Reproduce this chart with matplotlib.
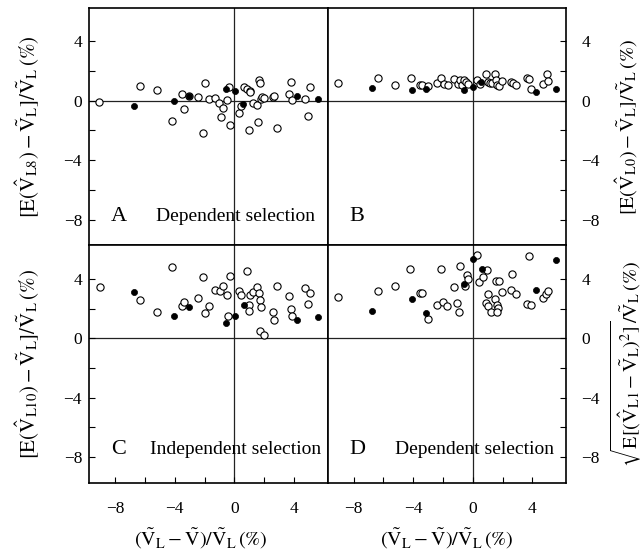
import matplotlib
matplotlib.use("Agg")
import matplotlib.pyplot as plt

plt.rcParams["font.family"] = ["Liberation Serif", "DejaVu Serif"]
plt.rcParams["mathtext.fontset"] = "stix"

# ---------------- data ----------------
# Panel A: dependent selection, L8 estimator bias
a_open_x = [-9.05, -6.35, -5.18, -3.53, -3.38, -4.17, -3.04, -2.41, -1.98, -2.12,
            -1.71, -1.28, -1.04, -0.79, -0.90, -0.52, -0.38, -0.29, 0.32, 0.43,
            0.65, 0.86, 1.04, 1.08, 1.22, 1.01, 1.58, 1.67, 1.69, 1.49,
            1.76, 1.84, 2.00, 2.57, 2.66, 2.88, 3.65, 3.78, 3.87, 4.71,
            5.05, 4.96]
a_open_y = [-0.11, 0.98, 0.70, 0.47, -0.56, -1.33, 0.30, 0.27, 1.20, -2.19,
            0.12, 0.18, -0.18, -0.52, -1.10, 0.07, 0.91, -1.60, -0.81, -0.34,
            0.91, 0.79, 0.66, 0.57, -0.16, -1.94, -1.40, 1.38, 1.22, -0.29,
            0.12, 0.25, 0.20, 0.27, 0.30, -1.83, 0.47, 1.29, 0.05, 0.12,
            0.95, -1.04]
a_fill_x = [-6.76, -4.05, -3.06, -0.56, 0.02, 0.61, 4.23, 5.59]
a_fill_y = [-0.34, -0.04, 0.30, 0.79, 0.68, -0.24, 0.34, 0.12]

# Panel B: L0 estimator bias
b_open_x = [-9.05, -6.35, -5.20, -4.17, -3.56, -3.40, -3.00, -2.43, -2.14, -1.94,
            -1.69, -1.28, -1.01, -0.84, -0.74, -0.57, -0.45, -0.32, 0.31, 0.49,
            0.90, 0.99, 1.15, 1.26, 1.46, 1.57, 1.64, 1.73, 1.96, 2.54,
            2.68, 2.88, 3.62, 3.78, 3.92, 4.70, 4.95, 5.04]
b_open_y = [1.18, 1.52, 1.08, 1.56, 1.06, 1.06, 1.00, 1.22, 1.52, 1.13,
            1.06, 1.45, 1.11, 1.42, 1.06, 1.42, 1.29, 1.15, 1.40, 1.13,
            1.79, 1.25, 1.18, 1.18, 1.79, 1.40, 1.06, 0.97, 1.36, 1.29,
            1.18, 1.06, 1.52, 1.47, 0.79, 1.13, 1.79, 1.36]
b_fill_x = [-6.76, -4.08, -3.11, -0.59, 0.02, 0.58, 4.21, 5.56]
b_fill_y = [0.84, 0.70, 0.79, 0.75, 0.93, 1.25, 0.61, 0.81]

# Panel C: independent selection, L10 estimator bias
c_open_x = [-9.03, -6.35, -5.18, -4.19, -3.53, -3.38, -2.41, -2.12, -1.98, -1.71,
            -1.28, -0.99, -0.79, -0.52, -0.43, -0.29, 0.32, 0.43, 0.88, 0.99,
            0.99, 1.08, 1.22, 1.49, 1.64, 1.69, 1.76, 1.74, 1.96, 2.59,
            2.64, 2.88, 3.65, 3.78, 3.87, 4.71, 5.05, 4.96]
c_open_y = [3.46, 2.56, 1.74, 4.81, 2.17, 2.44, 2.71, 4.14, 1.69, 2.20,
            3.28, 3.19, 3.53, 2.94, 1.47, 4.18, 3.19, 2.90, 4.52, 2.22,
            1.81, 2.94, 3.10, 3.48, 3.08, 2.58, 2.10, 0.47, 0.23, 1.74,
            1.25, 3.50, 2.85, 1.97, 1.52, 3.39, 3.05, 2.31]
c_fill_x = [-6.76, -4.05, -3.06, -0.59, 0.05, 0.63, 4.23, 5.59]
c_fill_y = [3.10, 1.52, 2.08, 1.04, 1.52, 2.22, 1.22, 1.40]

# Panel D: dependent selection, RMSE of L1 estimator
d_open_x = [-9.05, -6.35, -5.20, -4.19, -3.56, -3.40, -3.04, -2.41, -2.14, -1.99,
            -1.72, -1.28, -1.04, -0.90, -0.84, -0.41, -0.52, -0.30, 0.41, 0.65,
            0.97, 1.05, 0.90, 0.99, 1.19, 1.49, 1.57, 1.76, 1.64, 1.71,
            1.64, 1.96, 2.64, 2.59, 2.88, 3.62, 3.87, 4.70, 4.91, 5.04,
            0.29, 3.76]
d_open_y = [2.81, 3.17, 3.53, 4.66, 3.05, 3.05, 1.32, 2.24, 4.66, 2.47,
            2.15, 3.44, 2.37, 1.76, 4.86, 4.27, 3.53, 3.98, 3.76, 4.12,
            4.57, 2.98, 2.40, 2.20, 1.79, 2.64, 3.84, 3.84, 2.24, 2.01,
            1.79, 3.12, 4.34, 3.25, 2.96, 2.31, 2.22, 2.71, 2.98, 3.17,
            5.63, 5.56]
d_fill_x = [-6.76, -4.08, -3.11, -0.59, 0.04, 0.60, 4.21, 5.56]
d_fill_y = [1.81, 2.67, 1.67, 3.69, 5.36, 4.68, 3.28, 5.27]

tick_values = [-8, -6, -4, -2, 0, 2, 4]
tick_labels = ["\u22128", "", "\u22124", "", "0", "", "4"]
axis_limits = (-9.75, 6.25)

panel_letters = ["A", "B", "C", "D"]
panel_notes = ["Dependent selection", "", "Independent selection", "Dependent selection"]

ylab_A = r"$[\mathrm{E}(\hat{\mathrm{V}}_{\mathrm{L8}})-\tilde{\mathrm{V}}_{\mathrm{L}}]/\tilde{\mathrm{V}}_{\mathrm{L}}\,(\%)$"
ylab_B = r"$[\mathrm{E}(\hat{\mathrm{V}}_{\mathrm{L0}})-\tilde{\mathrm{V}}_{\mathrm{L}}]/\tilde{\mathrm{V}}_{\mathrm{L}}\,(\%)$"
ylab_C = r"$[\mathrm{E}(\hat{\mathrm{V}}_{\mathrm{L10}})-\tilde{\mathrm{V}}_{\mathrm{L}}]/\tilde{\mathrm{V}}_{\mathrm{L}}\,(\%)$"
ylab_D = r"$\sqrt{\mathrm{E}[(\hat{\mathrm{V}}_{\mathrm{L1}}-\tilde{\mathrm{V}}_{\mathrm{L}})^2]}/\tilde{\mathrm{V}}_{\mathrm{L}}\,(\%)$"
xlab = r"$(\tilde{\mathrm{V}}_{\mathrm{L}}-\tilde{\mathrm{V}})/\tilde{\mathrm{V}}_{\mathrm{L}}\,(\%)$"

# ---------------- figure ----------------
fig = plt.figure(figsize=(6.42, 5.51), dpi=100)
left, right = 89 / 642, 566 / 642
top, bottom = 1 - 8 / 551, 1 - 483 / 551
w = (right - left) / 2
h = (top - bottom) / 2

axA = fig.add_axes([left, bottom + h, w, h])
axB = fig.add_axes([left + w, bottom + h, w, h])
axC = fig.add_axes([left, bottom, w, h])
axD = fig.add_axes([left + w, bottom, w, h])
axes = [axA, axB, axC, axD]

series = [
    (a_open_x, a_open_y, a_fill_x, a_fill_y),
    (b_open_x, b_open_y, b_fill_x, b_fill_y),
    (c_open_x, c_open_y, c_fill_x, c_fill_y),
    (d_open_x, d_open_y, d_fill_x, d_fill_y),
]

for i, (ax, (ox, oy, fx, fy)) in enumerate(zip(axes, series)):
    ax.set_xlim(*axis_limits)
    ax.set_ylim(*axis_limits)
    ax.axhline(0, color="#222222", lw=0.9, zorder=1)
    ax.axvline(0, color="#222222", lw=0.9, zorder=1)
    ax.plot(ox, oy, "o", ls="none", mfc="white", mec="black", ms=5.2, mew=0.8, zorder=3)
    ax.plot(fx, fy, "o", ls="none", mfc="black", mec="black", ms=4.4, mew=0.5, zorder=4)
    for s in ax.spines.values():
        s.set_linewidth(1.2)

    is_left = i in (0, 2)
    is_bottom = i in (2, 3)
    ax.tick_params(axis="y", direction="in", length=4, width=0.8, labelsize=12.5,
                   left=is_left, labelleft=is_left,
                   right=not is_left, labelright=not is_left,
                   pad=5 if is_left else 11)
    ax.tick_params(axis="x", direction="in", length=4, width=0.8, labelsize=12.5,
                   bottom=is_bottom, labelbottom=is_bottom,
                   top=False, labeltop=False, pad=13)
    ax.set_xticks(tick_values)
    ax.set_yticks(tick_values)
    ax.set_xticklabels(tick_labels if is_bottom else [""] * len(tick_values))
    ax.set_yticklabels(tick_labels)

    ly = -7.8 if i < 2 else -7.5
    ax.text(-7.75, ly, panel_letters[i], fontsize=16, ha="center", va="center")
    if panel_notes[i]:
        ax.text(0.1, ly, panel_notes[i], fontsize=14, ha="center", va="center")

axA.set_ylabel(ylab_A, fontsize=15)
axA.yaxis.set_label_coords(-0.2, 0.5)
axC.set_ylabel(ylab_C, fontsize=15)
axC.yaxis.set_label_coords(-0.2, 0.5)
axB.yaxis.set_label_position("right")
axB.set_ylabel(ylab_B, fontsize=14.5)
axB.yaxis.set_label_coords(1.198, 0.5)
axD.yaxis.set_label_position("right")
axD.set_ylabel(ylab_D, fontsize=14.5)
axD.yaxis.set_label_coords(1.178, 0.5)
axC.set_xlabel(xlab, fontsize=14.5)
axC.xaxis.set_label_coords(0.47, -0.185)
axD.set_xlabel(xlab, fontsize=14.5)
axD.xaxis.set_label_coords(0.5, -0.185)

fig.savefig("out.png", dpi=100)
